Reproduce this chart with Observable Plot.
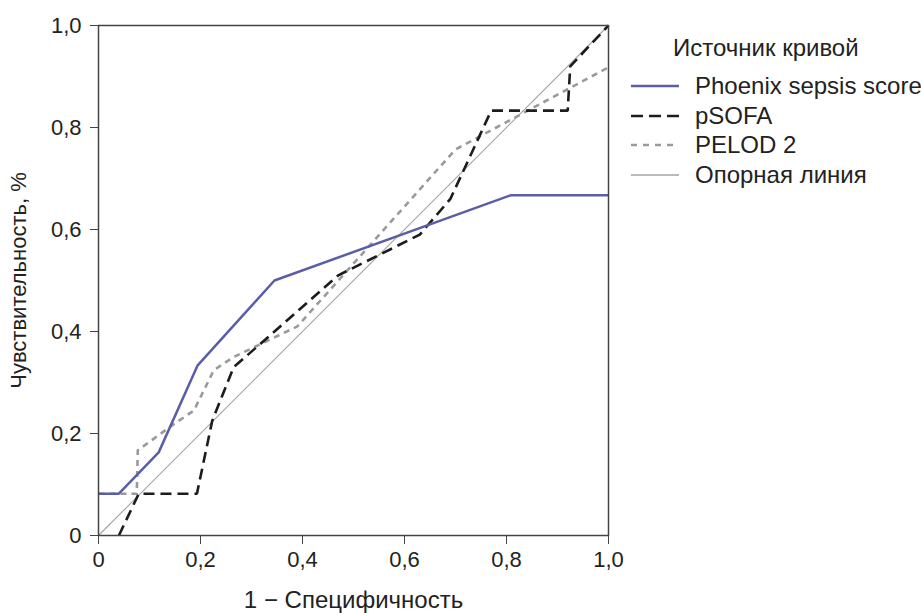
<!DOCTYPE html>
<html>
<head>
<meta charset="utf-8">
<script src="https://cdn.jsdelivr.net/npm/d3@7"></script>
<script src="https://cdn.jsdelivr.net/npm/@observablehq/plot@0.6"></script>
<style>
  html, body { margin: 0; padding: 0; background: #fff; }
  #wrap { position: relative; width: 921px; height: 613px; font-family: "Liberation Sans", Arial, sans-serif; color: #222; }
  #legend { position: absolute; left: 628px; top: 30px; font-size: 24px; white-space: nowrap; }
  #legend .title { margin-left: 45px; line-height: 36px; height: 41px; }
  #legend .item { display: flex; align-items: center; height: 29.7px; }
  #legend svg { width: 52px; height: 20px; margin-right: 15px; flex: none; }
  g[aria-label="x-axis label"] text { font-size: 24px; }
  g[aria-label="y-axis label"] text { font-size: 22px; }
</style>
</head>
<body>
<div id="wrap"><div id="legend"></div></div>
<script>
// ---- data ----
const seriesNames = ["Phoenix sepsis score", "pSOFA", "PELOD 2", "Опорная линия"];
const seriesColors = ["#5a5ea6", "#1c1c1c", "#9a9a9a", "#a3a3a3"];
const seriesDash = [null, "11,6", "6,5", null];
const seriesWidth = [2.5, 2.6, 2.6, 1.1];

const phoenixX = [0, 0.04, 0.118, 0.194, 0.345, 0.808, 1];
const phoenixY = [0.082, 0.082, 0.163, 0.333, 0.5, 0.667, 0.667];

const psofaX = [0.04, 0.079, 0.193, 0.223, 0.265, 0.345, 0.47, 0.63, 0.69, 0.77, 0.92, 0.925, 1];
const psofaY = [0, 0.082, 0.082, 0.225, 0.33, 0.40, 0.51, 0.59, 0.66, 0.833, 0.833, 0.92, 1];

const pelodX = [0, 0.075, 0.077, 0.15, 0.187, 0.226, 0.265, 0.39, 0.70, 1];
const pelodY = [0.082, 0.082, 0.167, 0.22, 0.245, 0.324, 0.35, 0.41, 0.757, 0.918];

const refX = [0, 1];
const refY = [0, 1];

const tickValues = [0, 0.2, 0.4, 0.6, 0.8, 1.0];
const tickLabels = ["0", "0,2", "0,4", "0,6", "0,8", "1,0"];
const xLabel = "1 − Специфичность";
const yLabel = "Чувствительность, %";
const legendTitle = "Источник кривой";

// ---- build ----
const toRows = (xs, ys) => xs.map((x, i) => ({x, y: ys[i]}));
const seriesData = [toRows(phoenixX, phoenixY), toRows(psofaX, psofaY), toRows(pelodX, pelodY), toRows(refX, refY)];
const fmt = d => tickLabels[tickValues.findIndex(t => Math.abs(t - d) < 1e-9)];

const lineMarks = [3, 2, 1, 0].map(i => Plot.line(seriesData[i], {
  x: "x", y: "y",
  stroke: seriesColors[i],
  strokeWidth: seriesWidth[i],
  strokeDasharray: seriesDash[i] || undefined,
  strokeLinejoin: "miter",
  strokeLinecap: "butt"
}));

const chart = Plot.plot({
  width: 921,
  height: 613,
  marginLeft: 98,
  marginRight: 313,
  marginTop: 25,
  marginBottom: 78,
  style: { fontFamily: "\"Liberation Sans\", Arial, sans-serif", fontSize: "22px", color: "#222", background: "#fff" },
  x: { domain: [0, 1] },
  y: { domain: [0, 1] },
  marks: [
    ...lineMarks,
    Plot.frame({ stroke: "#444", strokeWidth: 1.5 }),
    Plot.axisX({ ticks: tickValues, tickFormat: fmt, tickSize: 9, tickPadding: 7, stroke: "#444",
      label: xLabel, labelAnchor: "center", labelArrow: "none", labelOffset: 72 }),
    Plot.axisY({ ticks: tickValues, tickFormat: fmt, tickSize: 8, tickPadding: 9, stroke: "#444",
      label: yLabel, labelAnchor: "center", labelArrow: "none", labelOffset: 88 })
  ]
});
document.getElementById("wrap").prepend(chart);

// ---- legend ----
const legend = d3.select("#legend");
legend.append("div").attr("class", "title").text(legendTitle);
seriesNames.forEach((name, i) => {
  const item = legend.append("div").attr("class", "item");
  const s = item.append("svg").attr("viewBox", "0 0 52 20");
  s.append("line").attr("x1", 3).attr("x2", 51).attr("y1", 10).attr("y2", 10)
    .attr("stroke", seriesColors[i])
    .attr("stroke-width", i === 3 ? 1.3 : 2.6)
    .attr("stroke-dasharray", i === 1 ? "12,6" : i === 2 ? "6,6" : null);
  item.append("span").text(name);
});
</script>
</body>
</html>
